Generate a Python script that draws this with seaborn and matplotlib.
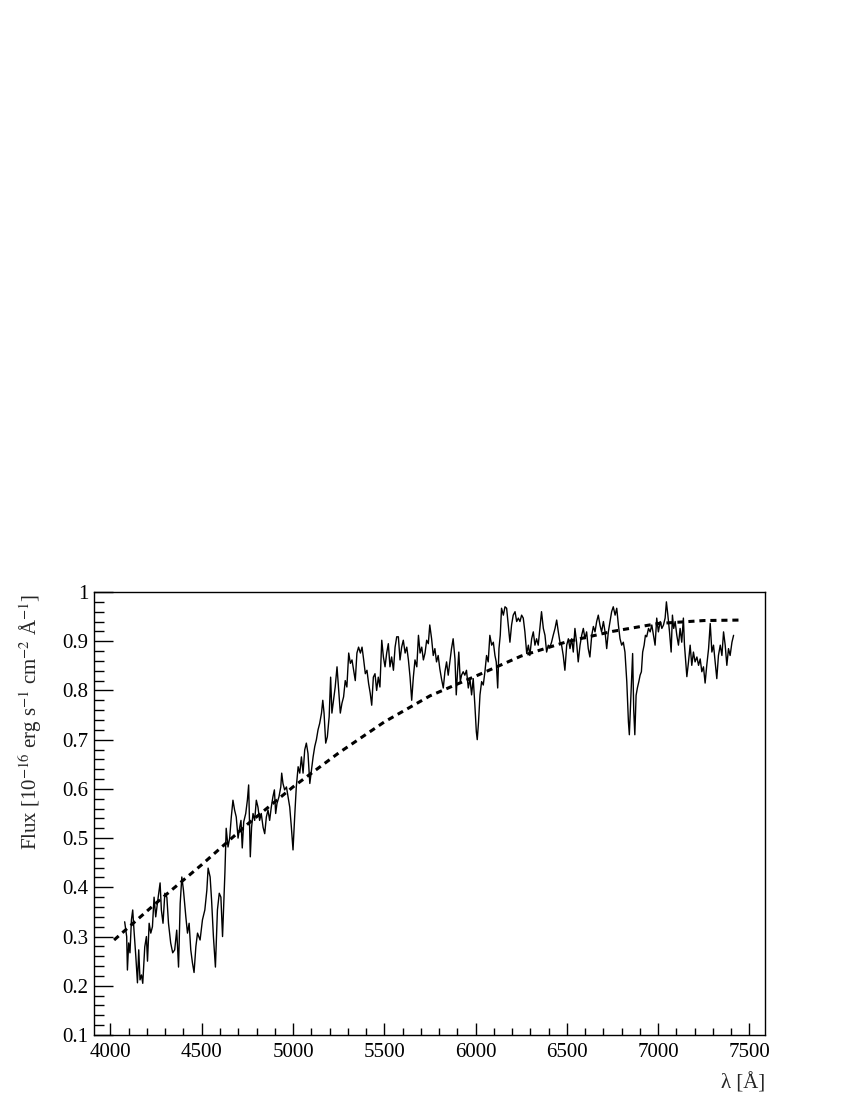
import matplotlib
matplotlib.use('Agg')
import matplotlib.pyplot as plt
import seaborn as sns
from matplotlib.ticker import MultipleLocator, FuncFormatter

wave = [4078, 4089, 4093, 4100, 4107, 4115, 4122, 4129, 4139, 4148, 4155, 4162, 4170, 4177,
        4188, 4197, 4203, 4212, 4221, 4230, 4239, 4248, 4257, 4272, 4279, 4288, 4298, 4309,
        4318, 4330, 4341, 4352, 4363, 4373, 4382, 4391, 4400, 4413, 4422, 4431, 4440, 4449,
        4458, 4468, 4477, 4491, 4504, 4517, 4528, 4535, 4546, 4554, 4564, 4575, 4586, 4596,
        4605, 4614, 4627, 4634,
        4644, 4653, 4662, 4671, 4680, 4689, 4699, 4708, 4715, 4722, 4730, 4741, 4750, 4757,
        4766, 4773, 4781, 4790, 4799, 4808, 4817, 4826, 4836, 4845, 4854, 4863, 4872, 4881,
        4890, 4898, 4905, 4912, 4923, 4933, 4938, 4945, 4954, 4964, 4973, 4982, 4991, 5000,
        5009, 5018, 5028, 5037, 5046, 5055, 5064, 5073, 5082, 5092, 5101, 5110, 5119, 5128,
        5137, 5146, 5156, 5163, 5170, 5179, 5188, 5198,
        5206, 5213, 5222, 5231, 5241, 5250, 5259, 5268, 5277, 5286, 5295, 5305, 5314, 5323,
        5332, 5341, 5350, 5359, 5369, 5378, 5387, 5396, 5405, 5414, 5423, 5431, 5440, 5449,
        5458, 5467, 5476, 5486, 5495, 5504, 5513, 5522, 5531, 5540, 5550, 5559, 5568, 5577,
        5586, 5595, 5604, 5614, 5623, 5632, 5641, 5650, 5659, 5668, 5678, 5687, 5696, 5705,
        5714, 5723, 5732, 5741,
        5749, 5759, 5768, 5777, 5786, 5795, 5804, 5813, 5823, 5832, 5841, 5850, 5859, 5868,
        5877, 5887, 5894, 5901, 5908, 5916, 5923, 5932, 5941, 5950, 5960, 5969, 5978, 5987,
        5996, 6004, 6009, 6016, 6024, 6033, 6042, 6051, 6060, 6069, 6078, 6088, 6097, 6106,
        6113, 6121, 6128, 6135, 6142, 6152, 6161, 6170, 6179, 6188, 6197, 6206, 6216, 6225,
        6234, 6243, 6252, 6261, 6270, 6280, 6289,
        6297, 6307, 6316, 6325, 6334, 6343, 6352, 6361, 6371, 6380, 6389, 6398, 6407, 6416,
        6425, 6435, 6444, 6453, 6462, 6471, 6480, 6489, 6499, 6508, 6517, 6526, 6535, 6544,
        6553, 6562, 6572, 6581, 6590, 6599, 6608, 6617, 6626, 6636, 6645, 6654, 6663, 6672,
        6681, 6690, 6700, 6709, 6718, 6727, 6736, 6745, 6754, 6764, 6773, 6782, 6791, 6800,
        6809, 6818, 6828, 6837, 6842, 6851, 6860, 6866, 6872, 6879,
        6886, 6894, 6901, 6908, 6915, 6923, 6930, 6937, 6947, 6956, 6965, 6974, 6983, 6992,
        7001, 7011, 7020, 7029, 7038, 7045, 7053, 7062, 7071, 7078, 7085, 7093, 7102, 7111,
        7120, 7129, 7138, 7144, 7151, 7157, 7166, 7175, 7184, 7193, 7202, 7212, 7221, 7230,
        7239, 7248, 7257, 7266, 7276, 7285, 7294, 7303, 7312, 7321, 7330, 7340, 7349, 7358,
        7367, 7376, 7385, 7394, 7404, 7413]

flux = [0.330, 0.300, 0.232, 0.287, 0.267, 0.334, 0.354, 0.313, 0.260, 0.206, 0.273, 0.212, 0.222, 0.205,
        0.279, 0.300, 0.250, 0.327, 0.307, 0.320, 0.380, 0.340, 0.367, 0.409, 0.354, 0.327, 0.388, 0.380,
        0.327, 0.287, 0.267, 0.273, 0.313, 0.238, 0.367, 0.421, 0.394, 0.340, 0.307, 0.327, 0.273, 0.247,
        0.227, 0.280, 0.307, 0.293, 0.334, 0.354, 0.394, 0.439, 0.421, 0.374, 0.300, 0.238, 0.354, 0.388,
        0.380, 0.300, 0.430, 0.520,
        0.482, 0.500, 0.543, 0.577, 0.557, 0.543, 0.500, 0.522, 0.536, 0.480, 0.533, 0.550, 0.577, 0.608,
        0.462, 0.522, 0.550, 0.536, 0.577, 0.563, 0.536, 0.550, 0.522, 0.509, 0.543, 0.557, 0.536, 0.563,
        0.584, 0.598, 0.550, 0.570, 0.584, 0.604, 0.632, 0.611, 0.598, 0.604, 0.584, 0.563, 0.522, 0.476,
        0.543, 0.604, 0.645, 0.632, 0.665, 0.632, 0.679, 0.693, 0.672, 0.611, 0.638, 0.665, 0.686, 0.700,
        0.720, 0.733, 0.754, 0.780, 0.754, 0.693, 0.706, 0.747,
        0.827, 0.754, 0.781, 0.807, 0.848, 0.800, 0.754, 0.774, 0.787, 0.820, 0.807, 0.876, 0.855, 0.862,
        0.841, 0.820, 0.876, 0.888, 0.876, 0.888, 0.862, 0.834, 0.841, 0.814, 0.794, 0.770, 0.827, 0.834,
        0.800, 0.827, 0.807, 0.902, 0.868, 0.848, 0.876, 0.895, 0.848, 0.868, 0.841, 0.888, 0.909, 0.909,
        0.862, 0.888, 0.902, 0.876, 0.888, 0.862, 0.827, 0.780, 0.827, 0.862, 0.848, 0.912, 0.876, 0.888,
        0.862, 0.876, 0.902, 0.895,
        0.933, 0.905, 0.871, 0.885, 0.858, 0.871, 0.844, 0.824, 0.805, 0.838, 0.858, 0.831, 0.858, 0.885,
        0.905, 0.864, 0.791, 0.838, 0.878, 0.818, 0.831, 0.838, 0.831, 0.841, 0.805, 0.824, 0.791, 0.824,
        0.770, 0.716, 0.700, 0.736, 0.791, 0.818, 0.811, 0.838, 0.871, 0.858, 0.912, 0.892, 0.898, 0.871,
        0.858, 0.805, 0.885, 0.912, 0.967, 0.953, 0.970, 0.967, 0.933, 0.898, 0.933, 0.953, 0.960, 0.940,
        0.947, 0.940, 0.953, 0.947, 0.919, 0.875, 0.892,
        0.871, 0.905, 0.919, 0.892, 0.905, 0.892, 0.926, 0.960, 0.926, 0.912, 0.878, 0.892, 0.888, 0.898,
        0.912, 0.926, 0.943, 0.919, 0.898, 0.892, 0.871, 0.841, 0.892, 0.905, 0.885, 0.905, 0.878, 0.926,
        0.898, 0.858, 0.892, 0.912, 0.926, 0.905, 0.919, 0.885, 0.868, 0.912, 0.930, 0.919, 0.940, 0.953,
        0.933, 0.919, 0.940, 0.919, 0.885, 0.919, 0.940, 0.960, 0.970, 0.953, 0.967, 0.933, 0.905, 0.892,
        0.898, 0.878, 0.818, 0.736, 0.710, 0.790, 0.875, 0.760, 0.710, 0.790,
        0.805, 0.818, 0.831, 0.838, 0.878, 0.892, 0.912, 0.909, 0.926, 0.919, 0.933, 0.912, 0.892, 0.947,
        0.919, 0.940, 0.926, 0.933, 0.947, 0.980, 0.953, 0.919, 0.878, 0.953, 0.926, 0.940, 0.912, 0.892,
        0.926, 0.898, 0.947, 0.892, 0.858, 0.828, 0.858, 0.892, 0.851, 0.878, 0.858, 0.868, 0.851, 0.864,
        0.838, 0.848, 0.815, 0.851, 0.885, 0.936, 0.878, 0.892, 0.858, 0.824, 0.871, 0.892, 0.871, 0.919,
        0.892, 0.851, 0.885, 0.871, 0.898, 0.912]

# Smooth continuum fit (dashed curve)
fit_wave = [4020, 4250, 4500, 4750, 5000, 5250, 5500, 5750, 6000, 6250, 6500, 6750, 7000, 7250, 7450]
fit_flux = [0.293, 0.368, 0.446, 0.528, 0.604, 0.673, 0.736, 0.789, 0.829, 0.870, 0.899, 0.920, 0.936, 0.942, 0.943]

sns.set_style('ticks')
plt.rcParams['font.family'] = ['Liberation Serif', 'DejaVu Serif']
plt.rcParams['mathtext.fontset'] = 'stix'

fig = plt.figure(figsize=(8.5, 11), dpi=100)
ax = fig.add_axes([94 / 850, 65 / 1100, 671 / 850, 443 / 1100])

sns.lineplot(x=wave, y=flux, ax=ax, color='black', lw=1.0, sort=False, estimator=None)
sns.lineplot(x=fit_wave, y=fit_flux, ax=ax, color='black', lw=2.2,
             linestyle=(0, (2, 1.6)), sort=False, estimator=None)

ax.set_xlim(3910, 7585)
ax.set_ylim(0.1, 1.0)
ax.xaxis.set_major_locator(MultipleLocator(500))
ax.xaxis.set_minor_locator(MultipleLocator(100))
ax.yaxis.set_major_locator(MultipleLocator(0.1))
ax.yaxis.set_minor_locator(MultipleLocator(0.02))
ax.yaxis.set_major_formatter(FuncFormatter(lambda v, p: '%g' % round(v, 2)))

ax.tick_params(which='both', direction='in', top=False, right=False, width=1, colors='black')
ax.tick_params(axis='x', which='major', length=9, labelsize=15, pad=6)
ax.tick_params(axis='x', which='minor', length=5)
ax.tick_params(axis='y', which='major', length=14, labelsize=15, pad=4)
ax.tick_params(axis='y', which='minor', length=7)
for s in ax.spines.values():
    s.set_linewidth(1)
    s.set_color('black')

ax.set_xlabel('')
ax.set_ylabel('')
fig.text(30 / 850, 1 - 594 / 1100,
         r'Flux [10$^{-16}$ erg s$^{-1}$ cm$^{-2}$ Å$^{-1}$]',
         rotation=90, ha='center', va='top', fontsize=15)
fig.text(765 / 850, 1 - 1083 / 1100, 'λ [Å]', ha='right', va='center', fontsize=15)

fig.savefig('out.png', dpi=100)
